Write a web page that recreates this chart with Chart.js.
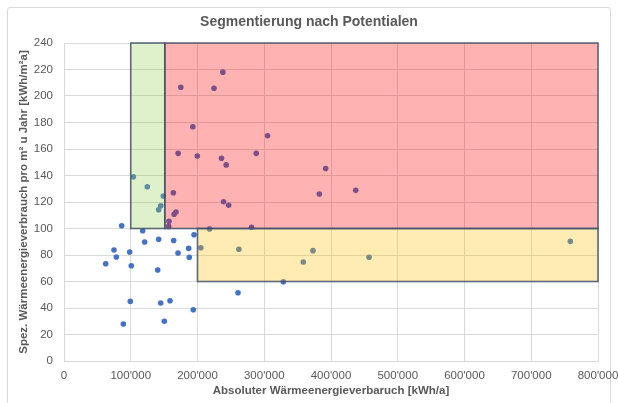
<!DOCTYPE html>
<html>
<head>
<meta charset="utf-8">
<script src="https://cdn.jsdelivr.net/npm/chart.js@4/dist/chart.umd.min.js"></script>
<style>
  html, body { margin: 0; padding: 0; background: #ffffff; }
  #wrap { position: relative; width: 618px; height: 403px; }
  #frame { position: absolute; left: 7px; top: 7px; width: 604px; height: 400px;
           border: 1px solid #d9d9d9; border-radius: 3px; box-sizing: border-box; pointer-events: none; }
  canvas { position: absolute; left: 0; top: 0; }
</style>
</head>
<body>
<div id="wrap"><div id="frame"></div><canvas id="c" width="618" height="403"></canvas></div>
<script>
// ---- Data ----
const chartTitle = 'Segmentierung nach Potentialen';
const xTitle = 'Absoluter Wärmeenergieverbaruch [kWh/a]';
const yTitle = 'Spez. Wärmeenergieverbrauch pro m² u Jahr [kWh/m²a]';

// Absolute heat consumption [kWh/a]
const absConsumption = [
  238000, 175000, 224700, 193000, 305000, 171000, 199700, 236000, 243000, 288000,
  103800, 124800, 163800, 392000, 382500, 437000, 148800, 145000, 141800, 167800,
  165000, 157300, 156800, 239000, 246700, 218000, 281000, 86400, 117900, 194800,
  120800, 141800, 164300, 205000, 262000, 74900, 98400, 186800, 78400, 170800,
  187700, 62500, 100800, 140400, 260700, 99300, 144900, 158800, 193700, 88900,
  150300, 373000, 358500, 457000, 328500, 758500
];
// Specific heat consumption [kWh/m²a]
const specConsumption = [
  218, 206.6, 205.8, 176.8, 170, 156.7, 154.7, 153, 148, 156.7,
  139, 131.5, 127, 145.3, 126, 128.8, 124.5, 117.2, 114.2, 112.5,
  110.7, 105.4, 101.6, 120.2, 117.5, 99.6, 100.9, 102.1, 98.3, 95.3,
  89.8, 91.8, 91, 85.5, 84.3, 83.8, 82.3, 85, 78.5, 81.5,
  78.3, 73.4, 71.9, 68.7, 51.5, 45, 43.8, 45.5, 38.7, 27.9,
  30, 83.3, 74.7, 78.3, 59.8, 90.3
];

// Segment boundaries (value space)
const segXFrom = [100000, 151000, 200000];
const segXTo   = [151000, 800000, 800000];
const segYFrom = [100, 100, 60];
const segYTo   = [240, 240, 100];

const xTicksMin = 0, xTicksMax = 800000, xStep = 100000;
const yTicksMin = 0, yTicksMax = 240, yStep = 20;

// ---- Styles ----
const segFill = ['rgba(146,208,80,0.30)', 'rgba(255,0,0,0.30)', 'rgba(255,192,0,0.30)'];
const segStroke = 'rgba(68,84,106,0.85)';
const textCol = '#595959';
const gridCol = '#d9d9d9';
const FONT = '"Liberation Sans", Arial, sans-serif';

const points = absConsumption.map((x, i) => ({ x: x, y: specConsumption[i] }));

const segmentPlugin = {
  id: 'segments',
  afterDatasetsDraw(chart) {
    const { ctx, scales: { x, y } } = chart;
    ctx.save();
    for (let i = 0; i < segXFrom.length; i++) {
      const l = x.getPixelForValue(segXFrom[i]);
      const r = x.getPixelForValue(segXTo[i]);
      const t = y.getPixelForValue(segYTo[i]);
      const b = y.getPixelForValue(segYFrom[i]);
      ctx.fillStyle = segFill[i];
      ctx.fillRect(l, t, r - l, b - t);
    }
    ctx.strokeStyle = segStroke;
    ctx.lineWidth = 1.6;
    for (let i = 0; i < segXFrom.length; i++) {
      const l = x.getPixelForValue(segXFrom[i]);
      const r = x.getPixelForValue(segXTo[i]);
      const t = y.getPixelForValue(segYTo[i]);
      const b = y.getPixelForValue(segYFrom[i]);
      ctx.strokeRect(l, t, r - l, b - t);
    }
    ctx.restore();
  }
};

const fmt = v => String(v).replace(/\B(?=(\d{3})+(?!\d))/g, "'");

new Chart(document.getElementById('c'), {
  type: 'scatter',
  data: {
    datasets: [{
      data: points,
      backgroundColor: '#4472C4',
      borderColor: '#4472C4',
      borderWidth: 0,
      pointRadius: 2.8,
      pointHoverRadius: 2.8
    }]
  },
  options: {
    responsive: false,
    animation: false,
    devicePixelRatio: 1,
    layout: { padding: { left: 0, right: 0, top: 0, bottom: 0 } },
    plugins: {
      legend: { display: false },
      tooltip: { enabled: false },
      title: {
        display: true,
        text: chartTitle,
        color: textCol,
        font: { family: FONT, size: 14, weight: 'bold', lineHeight: 1.2 },
        padding: { top: 14, bottom: 12.2 }
      }
    },
    scales: {
      x: {
        type: 'linear',
        min: xTicksMin, max: xTicksMax,
        afterFit(s) { s.height = 42; s.paddingRight = 20; },
        ticks: { stepSize: xStep, color: textCol, padding: 8, maxRotation: 0,
                 font: { family: FONT, size: 11.5 }, callback: v => fmt(v) },
        grid: { color: gridCol, drawTicks: false, lineWidth: 1 },
        border: { color: gridCol },
        title: { display: true, text: xTitle, color: textCol,
                 font: { family: FONT, size: 11.5, weight: 'bold', lineHeight: 1.2 },
                 padding: { top: 0, bottom: 5 } }
      },
      y: {
        type: 'linear',
        min: yTicksMin, max: yTicksMax,
        afterFit(s) { s.width = 64; },
        ticks: { stepSize: yStep, color: textCol, padding: 11,
                 font: { family: FONT, size: 11.5 } },
        grid: { color: gridCol, drawTicks: false, lineWidth: 1 },
        border: { display: false },
        title: { display: true, text: yTitle, color: textCol,
                 font: { family: FONT, size: 11.5, weight: 'bold', lineHeight: 1.2 },
                 padding: { top: 17, bottom: 0 } }
      }
    }
  },
  plugins: [segmentPlugin]
});
</script>
</body>
</html>
